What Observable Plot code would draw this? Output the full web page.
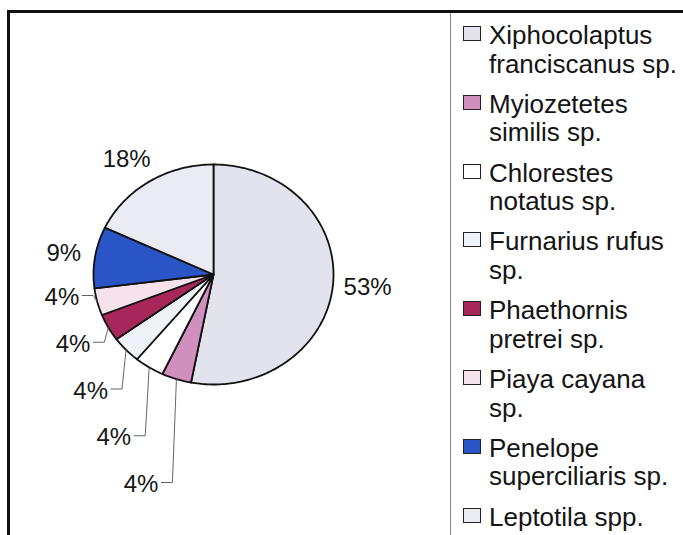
<!DOCTYPE html>
<html><head><meta charset="utf-8">
<script src="https://cdn.jsdelivr.net/npm/d3@7"></script>
<script src="https://cdn.jsdelivr.net/npm/@observablehq/plot@0.6"></script>
<style>
html,body{margin:0;padding:0;background:#fff;}
#wrap{position:relative;width:683px;height:535px;overflow:hidden;font-family:"Liberation Sans",Arial,sans-serif;background:#fff;}
#chart{position:absolute;left:0;top:0;}
.btop{position:absolute;left:7px;top:10px;width:676px;height:3px;background:#111;}
.bleft{position:absolute;left:7px;top:10px;width:3px;height:525px;background:#111;}
.sep{position:absolute;left:450px;top:13px;width:1px;height:522px;background:#8a8a8a;}
.item{position:absolute;left:463px;}
.box{position:absolute;left:0;top:5px;width:16px;height:13px;border:1.5px solid #222;}
.txt{position:absolute;left:26px;top:0;width:193px;font-size:26px;line-height:28.5px;color:#141414;white-space:normal;}
</style></head><body>
<div id="wrap">
  <div id="chart"></div>
  <div class="btop"></div>
  <div class="bleft"></div>
  <div class="sep"></div>
  <div id="legend"></div>
</div>
<script>
const species = [
  "Xiphocolaptus franciscanus sp.",
  "Myiozetetes similis sp.",
  "Chlorestes notatus sp.",
  "Furnarius rufus sp.",
  "Phaethornis pretrei sp.",
  "Piaya cayana sp.",
  "Penelope superciliaris sp.",
  "Leptotila spp."
];
const percents = [53, 4, 4, 4, 4, 4, 9, 18];
const colors = ["#e3e3ee", "#d08fbc", "#ffffff", "#eef3f9", "#a8275a", "#f5e2ea", "#2a55c6", "#ebebf4"];

// layout (pixel geometry of the ellipse in the scan)
const CX = 213, CY = 274, RX = 120, RY = 110;
const toX = px => (px - CX) / RX;
const toY = py => (CY - py) / RY;

const total = d3.sum(percents);
let acc = 0;
const slices = species.map((s, i) => {
  const a0 = acc / total * 2 * Math.PI; acc += percents[i];
  const a1 = acc / total * 2 * Math.PI;
  return {species: s, pct: percents[i], a0, a1, mid: (a0 + a1) / 2, i};
});

const piePts = slices.flatMap(sl => {
  const pts = [{species: sl.species, x: 0, y: 0}];
  const n = Math.max(2, Math.ceil((sl.a1 - sl.a0) / (Math.PI / 180)));
  for (let k = 0; k <= n; k++) {
    const a = sl.a0 + (sl.a1 - sl.a0) * k / n;
    pts.push({species: sl.species, x: Math.sin(a), y: Math.cos(a)});
  }
  return pts;
});

// labels
const small = slices.filter(s => s.pct < 5).sort((a, b) => b.mid - a.mid);
const leaders = [];
const labels = [];
small.forEach((sl, j) => {
  const edgeX = CX + RX * Math.sin(sl.mid), edgeY = CY - RY * Math.cos(sl.mid);
  const ex = edgeX - 4, ey = CY + 21 + 46.75 * j;
  const endX = ex - 11;
  leaders.push({k: j, x: toX(edgeX), y: toY(edgeY)});
  leaders.push({k: j, x: toX(ex), y: toY(ey)});
  leaders.push({k: j, x: toX(endX), y: toY(ey)});
  labels.push({text: sl.pct + "%", x: toX(endX - 3), y: toY(ey + 2), anchor: "end"});
});
slices.filter(s => s.pct >= 5).forEach(sl => {
  const t = sl.pct + "%";
  const half = t.length * 0.667 * 24 / 2;
  const r = 1.09;
  const px = CX + RX * r * Math.sin(sl.mid) + Math.sin(sl.mid) * half * (sl.pct > 50 ? 1 : 1.3);
  const py = CY - RY * r * Math.cos(sl.mid) - Math.cos(sl.mid) * 16;
  labels.push({text: t, x: toX(px), y: toY(py), anchor: "middle"});
});

const plot = Plot.plot({
  width: 446,
  height: 535,
  x: {domain: [-1, 1], range: [CX - RX, CX + RX], axis: null},
  y: {domain: [-1, 1], range: [CY + RY, CY - RY], axis: null},
  color: {domain: species, range: colors},
  style: {background: "transparent", fontFamily: "'Liberation Sans', Arial, sans-serif"},
  marks: [
    Plot.line(piePts, {x: "x", y: "y", z: "species", fill: "species", stroke: "#111", strokeWidth: 1.8, curve: "linear-closed", strokeLinejoin: "round"}),
    Plot.line(leaders, {x: "x", y: "y", z: "k", stroke: "#555", strokeWidth: 0.9}),
    Plot.text(labels.filter(d => d.anchor === "end"), {x: "x", y: "y", text: "text", textAnchor: "end", fontSize: 24, fill: "#161616"}),
    Plot.text(labels.filter(d => d.anchor === "middle"), {x: "x", y: "y", text: "text", textAnchor: "middle", fontSize: 24, fill: "#161616"})
  ]
});
document.getElementById("chart").appendChild(plot);

// legend
const legend = document.getElementById("legend");
species.forEach((s, i) => {
  const item = document.createElement("div");
  item.className = "item";
  item.style.top = (21 + 68.8 * i) + "px";
  const box = document.createElement("div");
  box.className = "box";
  box.style.background = colors[i];
  const txt = document.createElement("div");
  txt.className = "txt";
  txt.textContent = s;
  item.appendChild(box);
  item.appendChild(txt);
  legend.appendChild(item);
});
</script>
</body></html>
